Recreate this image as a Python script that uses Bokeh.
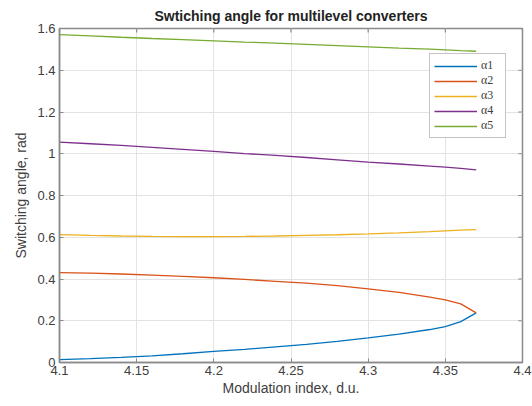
from bokeh.plotting import figure
from bokeh.models import FixedTicker, Range1d, Legend, LegendItem, Title
from bokeh.embed import file_html
from bokeh.resources import INLINE

x = [4.10, 4.12, 4.14, 4.16, 4.18, 4.20, 4.22, 4.24, 4.26, 4.28, 4.30, 4.32, 4.34, 4.35, 4.36, 4.37]
a1 = [0.014, 0.019, 0.025, 0.032, 0.042, 0.053, 0.063, 0.075, 0.087, 0.101, 0.118, 0.136, 0.158, 0.172, 0.196, 0.238]
a2 = [0.431, 0.428, 0.424, 0.419, 0.413, 0.406, 0.398, 0.389, 0.380, 0.368, 0.353, 0.336, 0.313, 0.300, 0.281, 0.238]
a3 = [0.613, 0.609, 0.606, 0.604, 0.603, 0.603, 0.604, 0.606, 0.609, 0.612, 0.616, 0.621, 0.627, 0.631, 0.634, 0.637]
a4 = [1.056, 1.048, 1.040, 1.031, 1.021, 1.011, 1.001, 0.992, 0.982, 0.971, 0.960, 0.951, 0.941, 0.936, 0.930, 0.923]
a5 = [1.571, 1.565, 1.558, 1.552, 1.547, 1.541, 1.535, 1.530, 1.524, 1.518, 1.512, 1.506, 1.501, 1.498, 1.494, 1.491]
series = [a1, a2, a3, a4, a5]
names = ["α1", "α2", "α3", "α4", "α5"]
colors = ["#0072BD", "#D95319", "#EDB120", "#7E2F8E", "#77AC30"]

x_ticks = [4.1, 4.15, 4.2, 4.25, 4.3, 4.35, 4.4]
x_labels = ["4.1", "4.15", "4.2", "4.25", "4.3", "4.35", "4.4"]
y_ticks = [0, 0.2, 0.4, 0.6, 0.8, 1.0, 1.2, 1.4, 1.6]
y_labels = ["0", "0.2", "0.4", "0.6", "0.8", "1", "1.2", "1.4", "1.6"]

FONT = "Liberation Sans"
AX = "#8a8a8a"
TXT = "#404040"
X0, X1, Y0, Y1 = 4.1, 4.4, 0.0, 1.6

p = figure(width=532, height=406, output_backend="svg", toolbar_location=None,
           x_range=Range1d(X0, X1), y_range=Range1d(Y0, Y1),
           min_border_left=59, min_border_right=10, min_border_top=28, min_border_bottom=44)
p.add_layout(Title(text="Swtiching angle for multilevel converters", align="center",
                   text_font=FONT, text_font_size="14px", text_font_style="bold",
                   text_color="#222222", offset=0, standoff=10), "above")

p.xaxis.ticker = FixedTicker(ticks=x_ticks)
p.xaxis.major_label_overrides = {t: l for t, l in zip(x_ticks, x_labels)}
p.yaxis.ticker = FixedTicker(ticks=y_ticks)
p.yaxis.major_label_overrides = {t: l for t, l in zip(y_ticks, y_labels)}
p.xaxis.axis_label = "Modulation index, d.u."
p.yaxis.axis_label = "Switching angle, rad"

for ax in p.xaxis + p.yaxis:
    ax.axis_line_color = AX
    ax.axis_line_width = 1.5
    ax.major_tick_line_color = AX
    ax.major_tick_in = 4
    ax.major_tick_out = 0
    ax.minor_tick_line_color = None
    ax.major_label_text_font = FONT
    ax.major_label_text_font_size = "13px"
    ax.major_label_text_color = TXT
    ax.axis_label_text_font = FONT
    ax.axis_label_text_font_size = "14px"
    ax.axis_label_text_font_style = "normal"
    ax.axis_label_text_color = TXT
p.xaxis.major_label_standoff = 3
p.xaxis.axis_label_standoff = 2
p.yaxis.major_label_standoff = 4
p.yaxis.axis_label_standoff = 5

p.xgrid.grid_line_color = "#e3e3e3"
p.ygrid.grid_line_color = "#e3e3e3"
p.outline_line_color = AX
p.outline_line_width = 1.5

# tick marks on the right and top edges of the box (MATLAB style)
tick_dx = (X1 - X0) * 0.009
tick_dy = (Y1 - Y0) * 0.012
p.segment(x0=[X1] * len(y_ticks), y0=y_ticks, x1=[X1 - tick_dx] * len(y_ticks), y1=y_ticks,
          line_color=AX, line_width=1.2)
p.segment(x0=x_ticks, y0=[Y1] * len(x_ticks), x1=x_ticks, y1=[Y1 - tick_dy] * len(x_ticks),
          line_color=AX, line_width=1.2)

items = []
for s, n, c in zip(series, names, colors):
    r = p.line(x, s, line_color=c, line_width=1.3)
    items.append(LegendItem(label=n, renderers=[r]))

leg = Legend(items=items, location=(370, 224), glyph_width=43, glyph_height=10,
             label_height=10, spacing=0, padding=4, margin=0,
             label_text_font="Liberation Serif", label_text_font_size="12px",
             label_text_color=TXT, label_standoff=4,
             border_line_color=AX, border_line_width=1.5,
             background_fill_color="white", background_fill_alpha=1)
p.add_layout(leg, "center")

open("out.html", "w").write(file_html(p, INLINE))
